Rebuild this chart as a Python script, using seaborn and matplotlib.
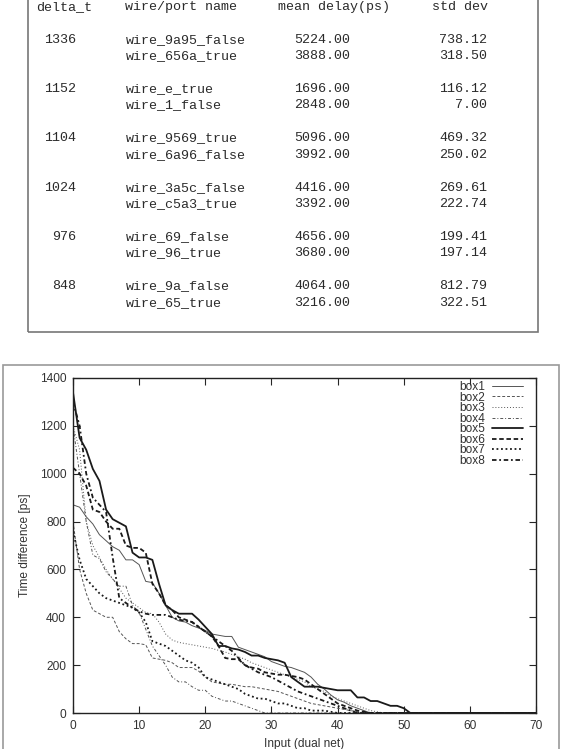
#!/usr/bin/env python3

import pandas as pd
import seaborn as sns
import matplotlib.pyplot as plt
from matplotlib.patches import Rectangle

# table data
delta_t = ["1336", "1152", "1104", "1024", "976", "848"]
wire_names = ["wire_9a95_false", "wire_656a_true",
              "wire_e_true", "wire_1_false",
              "wire_9569_true", "wire_6a96_false",
              "wire_3a5c_false", "wire_c5a3_true",
              "wire_69_false", "wire_96_true",
              "wire_9a_false", "wire_65_true"]
mean_delay = [5224.00, 3888.00, 1696.00, 2848.00, 5096.00, 3992.00,
              4416.00, 3392.00, 4656.00, 3680.00, 4064.00, 3216.00]
std_dev = [738.12, 318.50, 116.12, 7.00, 469.32, 250.02,
           269.61, 222.74, 199.41, 197.14, 812.79, 322.51]

# curves: time difference per input (last point at x=70)
box1_y = [870, 860, 820, 790, 745, 720, 695, 680, 640, 640, 620, 550, 545, 500, 450,
          400, 385, 380, 365, 355, 345, 330, 325, 320, 320, 275, 265, 255, 245, 235,
          215, 205, 195, 190, 180, 170, 150, 120, 100, 75, 55, 45, 30, 20, 10, 0, 0]
box2_y = [800, 600, 500, 430, 415, 400, 400, 340, 310, 290, 290, 285, 230, 225, 220,
          210, 190, 190, 190, 175, 150, 130, 125, 120, 120, 115, 110, 110, 105, 100,
          95, 90, 80, 70, 60, 50, 40, 35, 30, 25, 20, 15, 10, 5, 0, 0]
box3_y = [1200, 1100, 800, 700, 650, 600, 560, 520, 480, 460, 440, 420, 415, 380, 330,
          305, 295, 290, 285, 280, 275, 270, 262, 255, 245, 235, 225, 210, 200, 190,
          180, 170, 160, 150, 140, 130, 110, 100, 90, 70, 60, 50, 40, 30, 20, 10, 5, 0, 0]
box4_y = [1200, 1000, 800, 660, 645, 590, 560, 530, 530, 450, 420, 350, 280, 240, 200,
          150, 130, 130, 110, 95, 95, 70, 60, 50, 50, 40, 30, 20, 10, 0, 0]
box5_y = [1340, 1150, 1100, 1020, 970, 850, 810, 795, 780, 670, 650, 650, 640, 540, 450,
          430, 415, 415, 415, 390, 360, 330, 280, 280, 270, 265, 255, 240, 240, 230,
          225, 220, 210, 150, 130, 110, 110, 110, 105, 100, 95, 95, 95, 65, 65, 50,
          50, 40, 30, 30, 20, 0, 0]
box6_y = [1025, 1000, 950, 850, 840, 800, 770, 770, 700, 690, 690, 670, 540, 500, 450,
          430, 400, 390, 380, 360, 340, 320, 280, 230, 225, 225, 200, 190, 185, 170,
          165, 160, 160, 155, 150, 140, 120, 100, 80, 60, 40, 30, 20, 10, 5, 0, 0]
box7_y = [760, 640, 560, 530, 500, 480, 470, 460, 450, 440, 420, 380, 300, 290, 280,
          260, 240, 220, 210, 190, 150, 140, 130, 120, 110, 100, 80, 70, 60, 60,
          50, 40, 40, 30, 20, 20, 10, 10, 10, 5, 0, 0]
box8_y = [1300, 1200, 1000, 900, 870, 840, 650, 480, 460, 440, 425, 415, 410, 410, 410,
          400, 390, 385, 380, 360, 340, 320, 300, 280, 260, 230, 200, 185, 170, 160,
          150, 135, 120, 105, 90, 80, 70, 60, 50, 40, 30, 20, 10, 0, 0]

series = {"box1": box1_y, "box2": box2_y, "box3": box3_y, "box4": box4_y,
          "box5": box5_y, "box6": box6_y, "box7": box7_y, "box8": box8_y}

frames = []
for name, ys in series.items():
    xs = list(range(len(ys) - 1)) + [70]
    frames.append(pd.DataFrame({"input": xs, "diff": ys, "box": name}))
df = pd.concat(frames, ignore_index=True)

thin, thick = 0.7, 1.3
styles = {
    "box1": dict(lw=thin, color="#555555", ls="-"),
    "box2": dict(lw=thin, color="#555555", ls=(0, (3, 2))),
    "box3": dict(lw=thin, color="#555555", ls=(0, (1, 2))),
    "box4": dict(lw=thin, color="#555555", ls=(0, (3, 2, 1, 2))),
    "box5": dict(lw=thick, color="#1a1a1a", ls="-"),
    "box6": dict(lw=thick, color="#1a1a1a", ls=(0, (2.5, 1.5))),
    "box7": dict(lw=thick, color="#1a1a1a", ls=(0, (1, 1.5))),
    "box8": dict(lw=thick, color="#1a1a1a", ls=(0, (2.5, 1.5, 1, 1.5))),
}

sns.set_style("ticks")
plt.rcParams["font.family"] = ["Liberation Sans", "DejaVu Sans"]

W, H = 562, 749
fig = plt.figure(figsize=(W / 100, H / 100), dpi=100)


def fx(x):
    return x / W


def fy(y):
    return 1 - y / H


# table box and text
fig.patches.append(Rectangle((fx(27.6), fy(331.7)), fx(538) - fx(27.6), fy(-10) - fy(331.7),
                             transform=fig.transFigure, fill=False, ec="#777777", lw=1.2))
fig.patches.append(Rectangle((fx(3), fy(760)), fx(559) - fx(3), fy(365) - fy(760),
                             transform=fig.transFigure, fill=False, ec="#999999", lw=1.2))

mono = dict(family="Liberation Mono", size=9.6, color="#2a2a2a", va="baseline")
hb = 10
fig.text(fx(36.5), fy(hb), "delta_t", ha="left", **mono)
fig.text(fx(125.4), fy(hb), "wire/port name", ha="left", **mono)
fig.text(fx(278), fy(hb), "mean delay(ps)", ha="left", **mono)
fig.text(fx(487.5), fy(hb), "std dev", ha="right", **mono)

for i in range(len(wire_names)):
    g, sub = divmod(i, 2)
    yb = 38.7 + g * 49.3 + sub * 16.5 + 4
    if sub == 0:
        fig.text(fx(76.3), fy(yb), delta_t[g], ha="right", **mono)
    fig.text(fx(125.4), fy(yb), wire_names[i], ha="left", **mono)
    fig.text(fx(350.5), fy(yb), f"{mean_delay[i]:.2f}", ha="right", **mono)
    fig.text(fx(487.5), fy(yb), f"{std_dev[i]:.2f}", ha="right", **mono)

# chart
ax = fig.add_axes([fx(73), fy(713), fx(536) - fx(73), fy(378) - fy(713)])
for name in series:
    st = styles[name]
    sns.lineplot(data=df[df["box"] == name], x="input", y="diff", ax=ax,
                 color=st["color"], lw=st["lw"], linestyle=st["ls"], label=name)

ax.set_xlim(0, 70)
ax.set_ylim(0, 1400)
ax.set_xticks(range(0, 71, 10))
ax.set_yticks(range(0, 1401, 200))
ax.tick_params(direction="in", top=True, right=True, length=5, width=0.8,
               labelsize=8.6, labelcolor="#333333", pad=5)
for sp in ax.spines.values():
    sp.set_color("#222222")
    sp.set_linewidth(1.0)
ax.set_xlabel("Input (dual net)", fontsize=8.6, color="#333333", labelpad=4)
ax.set_ylabel("Time difference [ps]", fontsize=8.6, color="#333333", labelpad=6)

leg = ax.legend(loc="upper right", bbox_to_anchor=(0.972, 0.991), frameon=False,
                fontsize=8.6, markerfirst=False, handlelength=2.6, labelspacing=-0.12,
                borderaxespad=0, borderpad=0, handletextpad=0.6)
for t in leg.get_texts():
    t.set_color("#333333")

fig.savefig("out.png", dpi=100)
